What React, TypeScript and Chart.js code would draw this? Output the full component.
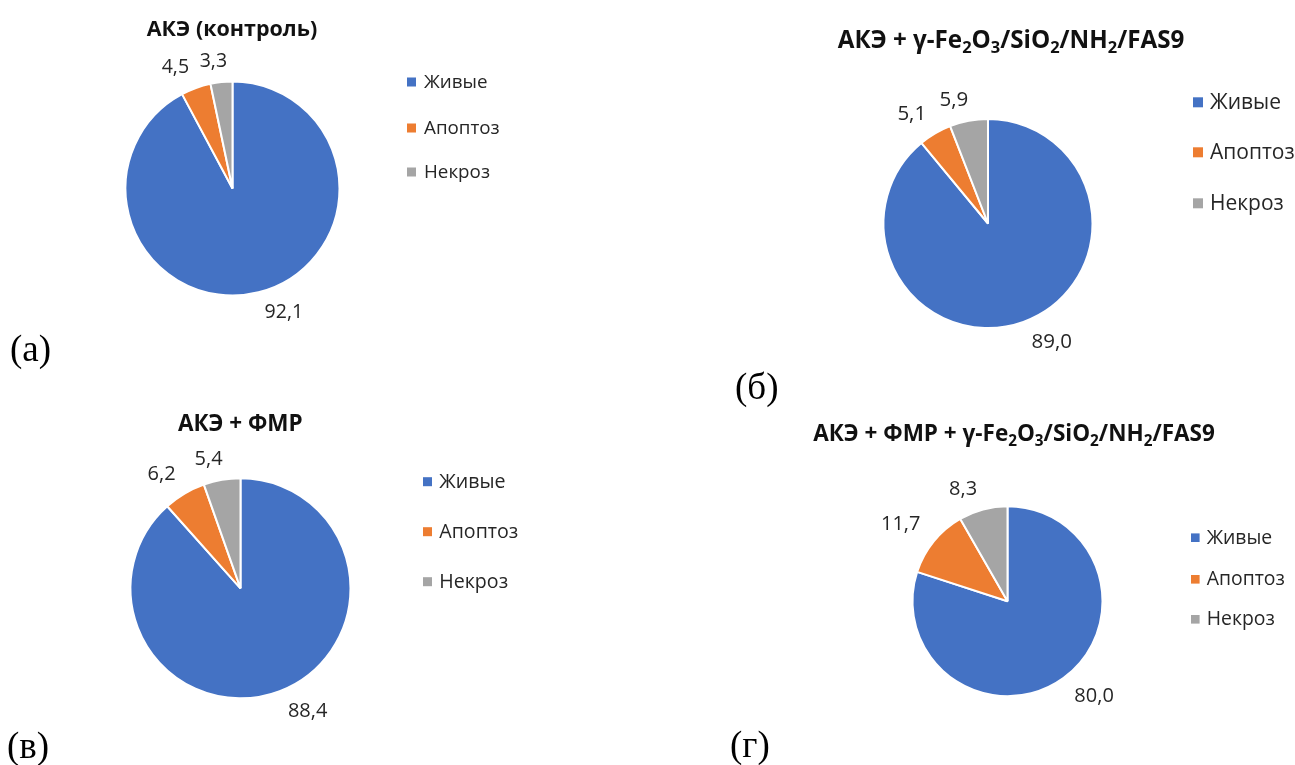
import React, { useEffect, useRef } from 'react';
import { Chart, registerables } from 'chart.js';

Chart.register(...registerables);

// ---- data ----
const categories = ['Живые', 'Апоптоз', 'Некроз'];
const valuesControl = [92.1, 4.5, 3.3];
const valuesNano = [89.0, 5.1, 5.9];
const valuesPmf = [88.4, 6.2, 5.4];
const valuesPmfNano = [80.0, 11.7, 8.3];
const titles = [
  'АКЭ (контроль)',
  'АКЭ + γ-Fe_2O_3/SiO_2/NH_2/FAS9',
  'АКЭ + ФМР',
  'АКЭ + ФМР + γ-Fe_2O_3/SiO_2/NH_2/FAS9',
];
const panelLetters = ['(а)', '(б)', '(в)', '(г)'];
const panelValues = [valuesControl, valuesNano, valuesPmf, valuesPmfNano];

// ---- styles / layout ----
const sliceColors = ['#4472C4', '#ED7D31', '#A5A5A5'];
const W = 1295;
const H = 765;
const FONT = '"Open Sans", "Noto Sans", sans-serif';
const TEXT_COLOR = '#262626';

type Layout = {
  cx: number; cy: number; r: number;
  labelFont: number; gap: number;
  legX: number; legTextX: number; legYs: number[]; legFont: number; box: number;
  titleX: number; titleY: number; titleFont: number;
  letterX: number; letterY: number;
};

const layouts: Layout[] = [
  { cx: 232.5, cy: 188.5, r: 107, labelFont: 19.5, gap: 12, legX: 407, legTextX: 424, legYs: [82, 128, 172], legFont: 18.8, box: 9, titleX: 232, titleY: 28, titleFont: 21.5, letterX: 10, letterY: 350 },
  { cx: 988, cy: 223.5, r: 104.5, labelFont: 20.5, gap: 12, legX: 1193, legTextX: 1210, legYs: [102.3, 152.3, 203.3], legFont: 21, box: 10, titleX: 1011, titleY: 39, titleFont: 24.2, letterX: 735, letterY: 387.5 },
  { cx: 240.5, cy: 588.3, r: 110, labelFont: 20, gap: 12, legX: 423, legTextX: 439.3, legYs: [481.7, 531.7, 581.7], legFont: 19.6, box: 9, titleX: 240.3, titleY: 422.5, titleFont: 22.5, letterX: 7, letterY: 747 },
  { cx: 1007.5, cy: 601.2, r: 95, labelFont: 20, gap: 12, legX: 1191, legTextX: 1206.7, legYs: [537.7, 579.3, 619.3], legFont: 19.4, box: 8.6, titleX: 1014, titleY: 433, titleFont: 22.5, letterX: 730, letterY: 746 },
];

const fmt = (v: number) => v.toFixed(1).replace('.', ',');
const clamp = (v: number, lo: number, hi: number) => Math.max(lo, Math.min(hi, v));

const makeDecorPlugin = (L: Layout) => ({
  id: 'decor',
  afterDatasetsDraw(chart: any) {
    const ctx = chart.ctx as CanvasRenderingContext2D;
    const meta = chart.getDatasetMeta(0);
    const data = chart.data.datasets[0].data as number[];
    ctx.save();
    ctx.font = `${L.labelFont}px ${FONT}`;
    ctx.fillStyle = TEXT_COLOR;
    ctx.textBaseline = 'middle';
    ctx.textAlign = 'center';
    meta.data.forEach((el: any, i: number) => {
      const p = el.getProps(['x', 'y', 'startAngle', 'endAngle', 'outerRadius'], true);
      const mid = (p.startAngle + p.endAngle) / 2;
      const dx = Math.cos(mid);
      const dy = Math.sin(mid);
      const ax = p.x + (p.outerRadius + L.gap) * dx;
      const ay = p.y + (p.outerRadius + L.gap) * dy;
      const txt = fmt(data[i]);
      const hw = ctx.measureText(txt).width / 2;
      const hh = L.labelFont * 0.45;
      const tx = ax + hw * 1.2 * clamp(dx * 4, -1, 1);
      const ty = ay + hh * clamp(dy * 2, -1, 1);
      ctx.fillText(txt, tx, ty);
    });
    // legend
    ctx.font = `${L.legFont}px ${FONT}`;
    ctx.textAlign = 'left';
    (chart.data.labels as string[]).forEach((lab, i) => {
      const y = L.legYs[i];
      ctx.fillStyle = sliceColors[i];
      ctx.fillRect(L.legX, y - L.box / 2, L.box, L.box);
      ctx.fillStyle = TEXT_COLOR;
      ctx.fillText(lab, L.legTextX, y + 0.5);
    });
    ctx.restore();
  },
});

function PieCanvas({ values, layout }: { values: number[]; layout: Layout }) {
  const ref = useRef<HTMLCanvasElement>(null);
  useEffect(() => {
    if (!ref.current) return;
    const L = layout;
    const pad = 1;
    const chart = new Chart(ref.current, {
      type: 'pie',
      data: {
        labels: categories,
        datasets: [
          {
            data: values,
            backgroundColor: sliceColors,
            borderColor: '#ffffff',
            borderWidth: 2,
            radius: L.r,
          } as any,
        ],
      },
      options: {
        responsive: false,
        animation: false,
        events: [],
        layout: {
          padding: {
            left: L.cx - L.r - pad,
            right: W - L.cx - L.r - pad,
            top: L.cy - L.r - pad,
            bottom: H - L.cy - L.r - pad,
          },
        },
        plugins: {
          legend: { display: false },
          tooltip: { enabled: false },
          title: { display: false },
        },
      } as any,
      plugins: [makeDecorPlugin(L)],
    });
    return () => chart.destroy();
  }, [values, layout]);
  return (
    <canvas
      ref={ref}
      width={W}
      height={H}
      style={{ position: 'absolute', left: 0, top: 0, width: W, height: H }}
    />
  );
}

function renderTitle(t: string) {
  const parts = t.split(/(_\d)/);
  return parts.map((p, i) =>
    p.startsWith('_') ? (
      <span key={i} style={{ fontSize: '0.68em', position: 'relative', top: '0.32em' }}>
        {p.slice(1)}
      </span>
    ) : (
      <span key={i}>{p}</span>
    )
  );
}

export default function App() {
  return (
    <div style={{ position: 'absolute', left: 0, top: 0, width: W, height: H, background: '#fff', overflow: 'hidden' }}>
      {layouts.map((L, i) => (
        <React.Fragment key={i}>
          <PieCanvas values={panelValues[i]} layout={L} />
          <div
            style={{
              position: 'absolute',
              left: L.titleX,
              top: L.titleY,
              transform: 'translate(-50%, -50%)',
              whiteSpace: 'nowrap',
              fontFamily: FONT,
              fontWeight: 700,
              fontSize: L.titleFont,
              lineHeight: 1,
              color: '#111',
            }}
          >
            {renderTitle(titles[i])}
          </div>
          <div
            style={{
              position: 'absolute',
              left: L.letterX,
              top: L.letterY - 2,
              transform: 'translateY(-50%)',
              whiteSpace: 'nowrap',
              fontFamily: '"Liberation Serif", "Times New Roman", serif',
              fontSize: 37,
              lineHeight: 1,
              color: '#000',
            }}
          >
            {panelLetters[i]}
          </div>
        </React.Fragment>
      ))}
    </div>
  );
}
